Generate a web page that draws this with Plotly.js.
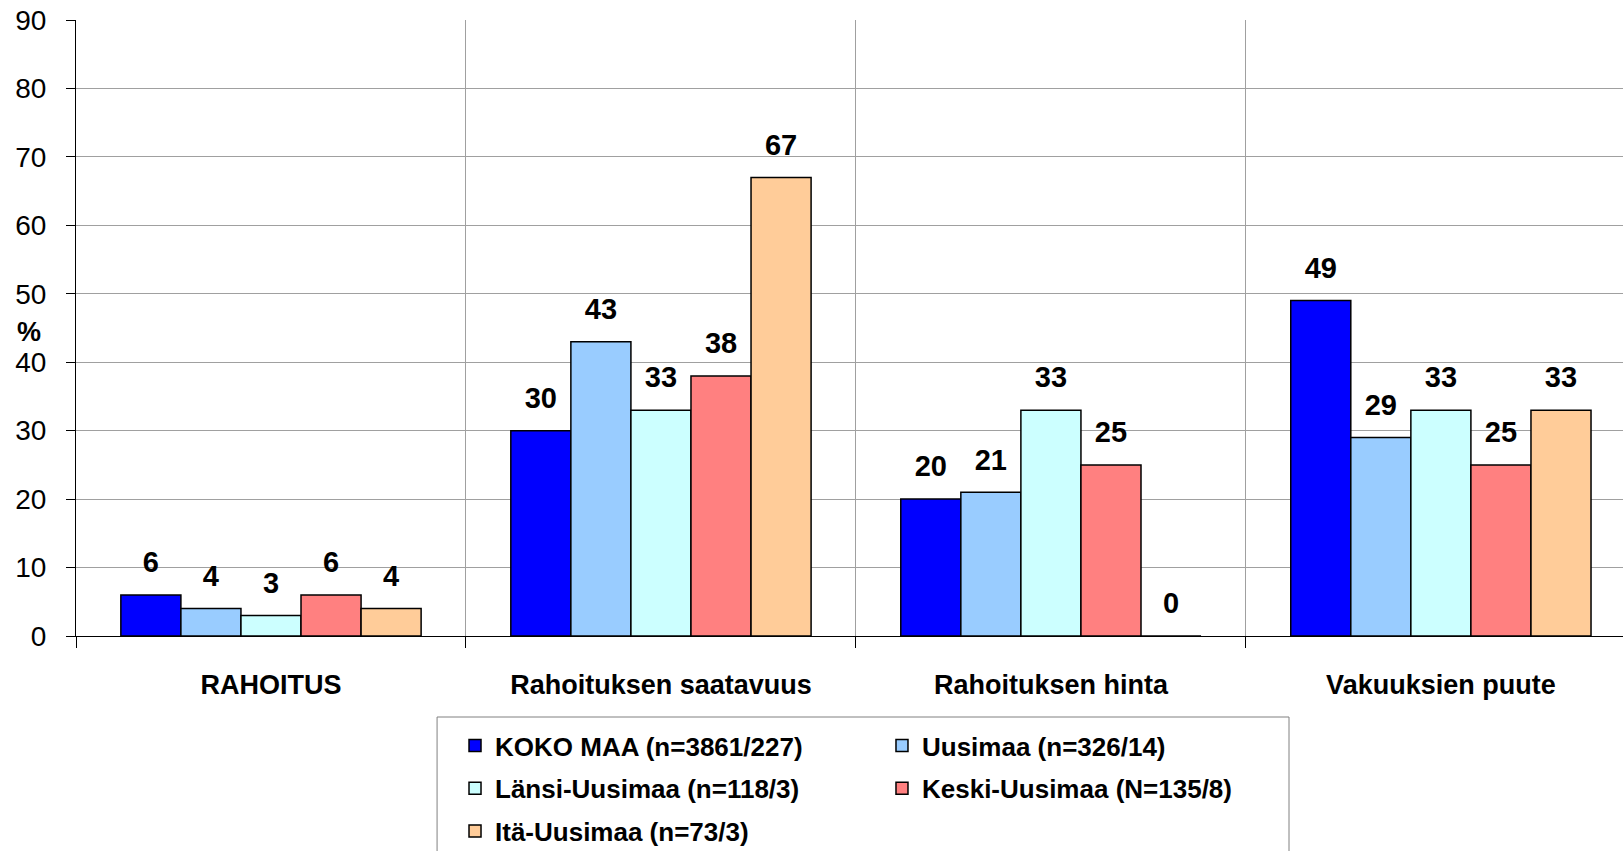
<!DOCTYPE html>
<html>
<head>
<meta charset="utf-8">
<script src="https://cdn.plot.ly/plotly-3.0.1.min.js"></script>
<style>
  html, body { margin: 0; padding: 0; background: #fff; }
  #chart { width: 1623px; height: 851px; }
</style>
</head>
<body>
<div id="chart"></div>
<script>
// Categories and series
const categories = ['RAHOITUS', 'Rahoituksen saatavuus', 'Rahoituksen hinta', 'Vakuuksien puute'];
const seriesNames = [
  'KOKO MAA (n=3861/227)',
  'Uusimaa (n=326/14)',
  'Länsi-Uusimaa (n=118/3)',
  'Keski-Uusimaa (N=135/8)',
  'Itä-Uusimaa (n=73/3)'
];
const kokoMaa = [6, 30, 20, 49];
const uusimaa = [4, 43, 21, 29];
const lansiUusimaa = [3, 33, 33, 33];
const keskiUusimaa = [6, 38, 25, 25];
const itaUusimaa = [4, 67, 0, 33];

const seriesValues = [kokoMaa, uusimaa, lansiUusimaa, keskiUusimaa, itaUusimaa];
const colors = ['#0000ff', '#99ccff', '#ccffff', '#ff8080', '#ffcc99'];
// legend is laid out in two columns: left column / right column
const legendColumn = ['legend', 'legend2', 'legend', 'legend2', 'legend'];

const FONT = 'Liberation Sans, Arial, sans-serif';
const LABEL_PAD = 2; // gap between bar top and its value label, in axis units

const traces = [];

// === Bars ===
seriesValues.forEach((vals, i) => {
  traces.push({
    type: 'bar',
    name: seriesNames[i],
    x: categories,
    y: vals,
    offsetgroup: String(i),
    legend: legendColumn[i],
    legendgroup: 'g' + i,
    marker: { color: colors[i], line: { color: '#000', width: 1.5 } },
    hoverinfo: 'skip'
  });
});

// === Value labels (invisible bars sitting on top of each bar) ===
seriesValues.forEach((vals, i) => {
  traces.push({
    type: 'bar',
    x: categories,
    y: vals.map(() => LABEL_PAD),
    base: vals,
    offsetgroup: String(i),
    text: vals.map(String),
    textposition: 'outside',
    constraintext: 'none',
    cliponaxis: false,
    textfont: { family: FONT, size: 29, color: '#000', weight: 'bold' },
    marker: { color: 'rgba(0,0,0,0)', line: { width: 0 } },
    showlegend: false,
    hoverinfo: 'skip'
  });
});

const legendStyle = {
  orientation: 'v',
  yanchor: 'top',
  xanchor: 'left',
  y: -0.1396,
  traceorder: 'grouped',
  tracegroupgap: 6,
  bgcolor: 'rgba(0,0,0,0)',
  borderwidth: 0,
  font: { family: FONT, size: 26, weight: 'bold', color: '#000' }
};

Plotly.newPlot('chart', traces, {
  width: 1623,
  height: 851,
  margin: { l: 76, r: 0, t: 20, b: 215, autoexpand: false },
  paper_bgcolor: '#fff',
  plot_bgcolor: '#fff',
  barmode: 'group',
  bargap: 0.23,
  bargroupgap: 0,
  font: { family: FONT, color: '#000' },
  xaxis: {
    type: 'category',
    range: [-0.5, 3.467],
    tickson: 'boundaries',
    ticks: 'outside',
    ticklen: 11,
    tickcolor: '#000',
    showgrid: true,
    gridcolor: '#a0a0a0',
    gridwidth: 1,
    showline: true,
    linecolor: '#000',
    linewidth: 1,
    ticklabelstandoff: 25,
    tickfont: { family: FONT, size: 27, weight: 'bold', color: '#000' }
  },
  yaxis: {
    range: [0, 90],
    dtick: 10,
    ticks: 'outside',
    ticklen: 9,
    tickcolor: '#000',
    showgrid: true,
    gridcolor: '#a0a0a0',
    gridwidth: 1,
    zeroline: false,
    showline: true,
    linecolor: '#000',
    linewidth: 1,
    ticklabelstandoff: 14,
    tickfont: { family: FONT, size: 28, color: '#000' }
  },
  annotations: [{
    text: '%',
    xref: 'paper', yref: 'y',
    x: -0.0304, y: 44.4,
    xanchor: 'center', yanchor: 'middle',
    showarrow: false,
    font: { family: FONT, size: 27, weight: 'bold', color: '#000' }
  }],
  // legend frame (runs off the bottom of the picture, as in the original)
  shapes: [{
    type: 'rect',
    xref: 'paper', yref: 'paper',
    x0: 0.2334, x1: 0.7841, y0: -0.1315, y1: -0.5,
    line: { color: '#808080', width: 1 },
    fillcolor: 'rgba(0,0,0,0)',
    layer: 'below'
  }],
  legend: Object.assign({}, legendStyle, { x: 0.245 }),
  legend2: Object.assign({}, legendStyle, { x: 0.521 }),
  showlegend: true
}, { displayModeBar: false, staticPlot: true });
</script>
</body>
</html>
